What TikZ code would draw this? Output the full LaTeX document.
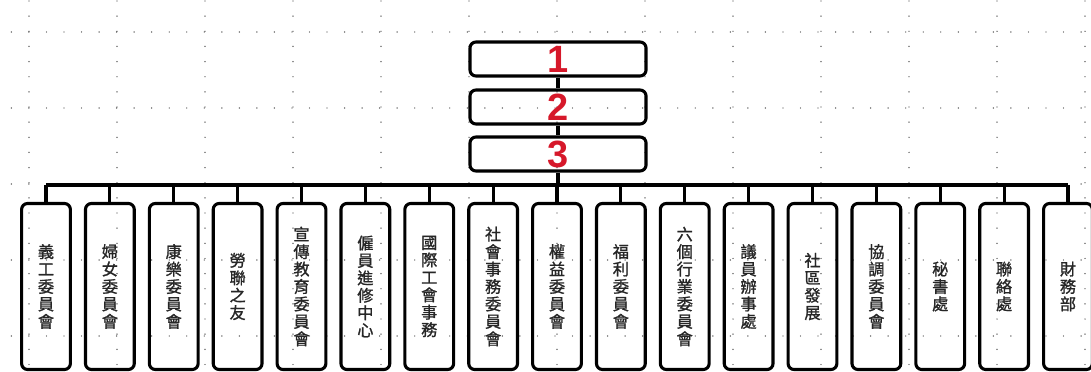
\documentclass[tikz,border=0pt]{standalone}
\usepackage{fontspec}
\setmainfont{Liberation Sans}
\newfontfamily\cjk[AutoFakeBold=1.2]{Noto Sans CJK TC}
\definecolor{numred}{RGB}{214,24,42}

\tikzset{
  gridline/.style={draw=black!75,line width=1pt,line cap=round},
  head/.style={draw,line width=2.2pt,rounded corners=0.15cm,minimum width=4.4cm,
    minimum height=0.85cm,inner sep=0pt,text=numred,
    font=\bfseries\fontsize{27}{27}\selectfont},
  unit/.style={draw,line width=2.2pt,rounded corners=0.15cm,minimum width=1.22cm,
    minimum height=4.15cm,inner sep=0pt,align=center,text=black!85,
    font=\cjk\bfseries\fontsize{11.5}{12.4}\selectfont},
  link/.style={line width=2.2pt},
}

\begin{document}
\begin{tikzpicture}[x=0.025cm,y=-0.025cm]

  \useasboundingbox (0,0) rectangle (1091,372);

  % Grid
  \foreach \gx in {29,117,...,1085}
    \draw[gridline,dash pattern=on 0pt off 10.77pt] (\gx,1) -- (\gx,372);
  \foreach \gy in {32,108,...,336}
    \draw[gridline,dash pattern=on 0pt off 12.47pt] (11.4,\gy) -- (1091,\gy);

  % Head boxes
  \node[head] (h1) at (558,59) {1};
  \node[head] (h2) at (558,107) {2};
  \node[head] (h3) at (558,154) {3};

  % Units
  \foreach \name [count=\i] in {
      {義\\工\\委\\員\\會}, {婦\\女\\委\\員\\會}, {康\\樂\\委\\員\\會},
      {勞\\聯\\之\\友}, {宣\\傳\\教\\育\\委\\員\\會}, {僱\\員\\進\\修\\中\\心},
      {國\\際\\工\\會\\事\\務}, {社\\會\\事\\務\\委\\員\\會}, {權\\益\\委\\員\\會},
      {福\\利\\委\\員\\會}, {六\\個\\行\\業\\委\\員\\會}, {議\\員\\辦\\事\\處},
      {社\\區\\發\\展}, {協\\調\\委\\員\\會}, {秘\\書\\處},
      {聯\\絡\\處}, {財\\務\\部}} {
    \pgfmathsetmacro\ux{46+63.875*(\i-1)}
    \node[unit] (u\i) at (\ux,286.5) {\name};
  }

  % Edges
  \coordinate (bus) at (558,185);
  \draw[link] (h1) -- (h2);
  \draw[link] (h2) -- (h3);
  \draw[link] (h3) -- (bus);
  \draw[link] (u1.north |- bus) -- (u17.north |- bus);
  \foreach \i in {1,...,17}
    \draw[link] (u\i.north |- bus) -- (u\i.north);

\end{tikzpicture}
\end{document}
